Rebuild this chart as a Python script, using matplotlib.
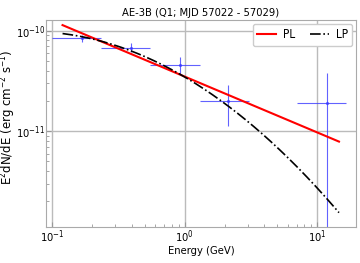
import numpy as np
import matplotlib
matplotlib.use("Agg")
import matplotlib.pyplot as plt
from matplotlib.ticker import NullFormatter

plt.rcParams["font.stretch"] = "condensed"

# SED points (GeV, erg cm^-2 s^-1)
energy = [0.167, 0.391, 0.929, 2.14, 11.8]
e_low = [0.100, 0.234, 0.548, 1.30, 7.05]
e_high = [0.232, 0.549, 1.30, 3.07, 16.4]
flux = [8.45e-11, 6.67e-11, 4.54e-11, 2.00e-11, 1.89e-11]
flux_low = [7.7e-11, 6.1e-11, 3.7e-11, 1.12e-11, 5.0e-13]
flux_high = [9.1e-11, 7.5e-11, 5.5e-11, 2.87e-11, 3.78e-11]

# fitted models (E0 = 1 GeV)
e_min, e_max = 0.12, 14.6
pl_norm, pl_index = 3.50e-11, 2.556
lp_norm, lp_alpha, lp_beta = 3.47e-11, 2.774, 0.144

x_ticks = [0.1, 1, 10]
y_ticks = [1e-11, 1e-10]

E = np.logspace(np.log10(e_min), np.log10(e_max), 200)
pl = pl_norm * E ** (2 - pl_index)
lp = lp_norm * E ** (2 - lp_alpha - lp_beta * np.log(E))

energy = np.array(energy)
flux = np.array(flux)
xerr = [energy - np.array(e_low), np.array(e_high) - energy]
yerr = [flux - np.array(flux_low), np.array(flux_high) - flux]

fig = plt.figure(figsize=(3.6, 2.63), dpi=100)
ax = fig.add_axes([0.128, 0.137, 0.861, 0.787])

ax.errorbar(energy, flux, xerr=xerr, yerr=yerr, fmt=".", color="#3b3bff",
            ms=2.5, lw=0.8, alpha=0.8, zorder=2)
ax.plot(E, pl, color="red", lw=1.5, label="PL", zorder=3)
ax.plot(E, lp, "k-.", lw=1.2, label="LP", zorder=3)

ax.set_xscale("log")
ax.set_yscale("log")
ax.set_xticks(x_ticks)
ax.set_yticks(y_ticks)
ax.set_xlim(10 ** -1.045, 10 ** 1.293)
ax.set_ylim(10 ** -11.953, 10 ** -9.893)
ax.xaxis.set_minor_formatter(NullFormatter())
ax.yaxis.set_minor_formatter(NullFormatter())
ax.grid(True, which="major", color="#bbbbbb", lw=1)
ax.tick_params(which="both", direction="in", color="#999999", labelsize=8, pad=1)
for s in ax.spines.values():
    s.set_color("#aaaaaa")

ax.set_title("AE-3B (Q1; MJD 57022 - 57029)", fontsize=8, pad=3)
ax.set_xlabel("Energy (GeV)", fontsize=8, labelpad=1)
ax.set_ylabel(r"E$^2$dN/dE (erg cm$^{-2}$ s$^{-1}$)", fontsize=8.5,
              fontstretch="normal", labelpad=1)
ax.yaxis.set_label_coords(-0.089, 0.53)
ax.legend(loc="upper right", ncol=2, fontsize=8.5, handlelength=1.6,
          handletextpad=0.6, borderaxespad=0.3, columnspacing=1.2,
          framealpha=1)

fig.savefig("out.png", dpi=100)
